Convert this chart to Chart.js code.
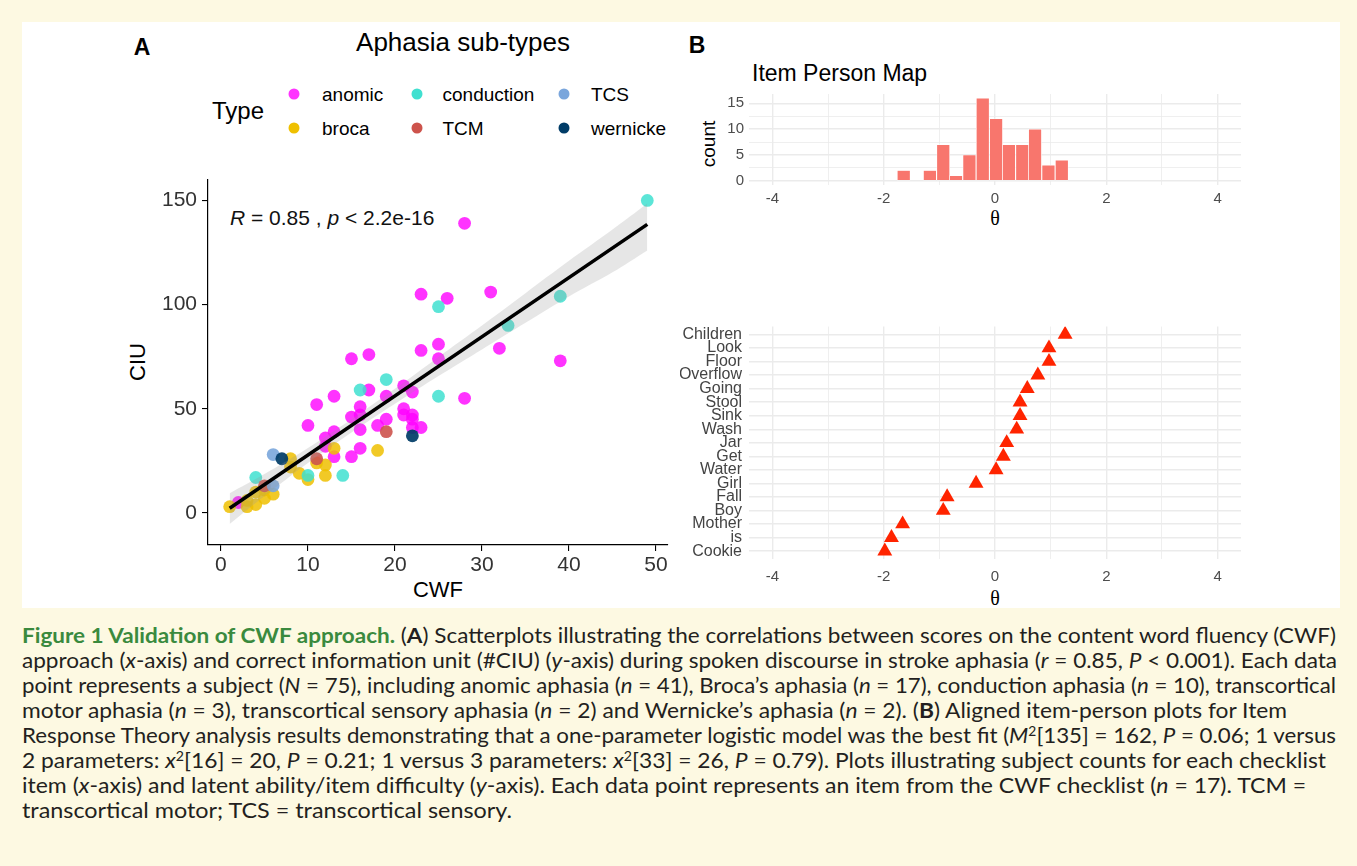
<!DOCTYPE html>
<html><head><meta charset="utf-8">
<title>Figure 1 Validation of CWF approach</title>
<script src="https://cdn.jsdelivr.net/npm/chart.js@4.4.1/dist/chart.umd.min.js"></script>
<style>
html,body{margin:0;padding:0}
body{width:1357px;height:866px;background:#fdf9e2;position:relative;overflow:hidden;font-family:"Liberation Sans",Arial,sans-serif;color:#000}
#panel{position:absolute;left:22px;top:22px;width:1318px;height:586px;background:#fff}
.t{position:absolute;white-space:nowrap;line-height:1}
.c{transform:translate(-50%,-50%)}
.l{transform:translateY(-50%)}
.rot{transform:translate(-50%,-50%) rotate(-90deg)}
.dot{position:absolute;width:11px;height:11px;border-radius:50%;transform:translate(-50%,-50%)}
canvas{position:absolute}
.cl{position:absolute;left:22px;white-space:nowrap;font-family:Lato,"Noto Sans",sans-serif;font-size:21px;line-height:25px;color:#231f20;transform-origin:0 50%}
.cl .g{color:#3a8a3e;font-weight:bold}
sup{font-size:0.62em;line-height:0;vertical-align:0.55em}
.serif{font-family:"Liberation Serif","DejaVu Serif",serif}
</style></head>
<body>
<div id="panel"></div>

<div class="t c" style="left:142px;top:47px;font-size:23px;font-weight:bold">A</div>
<div class="t c" style="left:697px;top:45px;font-size:23px;font-weight:bold">B</div>
<div class="t c" style="left:463px;top:42px;font-size:26px">Aphasia sub-types</div>
<div class="t c" style="left:238px;top:111px;font-size:24px">Type</div>
<div id="legend"></div>

<div class="t l" style="left:230px;top:217px;font-size:21px;color:#111"><i>R</i> = 0.85 , <i>p</i> &lt; 2.2e-16</div>
<div class="t rot" style="left:138px;top:362px;font-size:22px">CIU</div>
<div class="t c" style="left:438px;top:590px;font-size:22px">CWF</div>

<div class="t l" style="left:752px;top:73px;font-size:23px">Item Person Map</div>
<div class="t rot" style="left:708px;top:144px;font-size:19px">count</div>
<div class="t c serif" style="left:995px;top:218px;font-size:20px">θ</div>
<div class="t c serif" style="left:995px;top:598px;font-size:20px">θ</div>

<canvas id="cA" width="600" height="420" style="left:100px;top:160px;width:600px;height:420px"></canvas>
<canvas id="cH" width="600" height="130" style="left:680px;top:80px;width:600px;height:130px"></canvas>
<canvas id="cI" width="600" height="280" style="left:680px;top:310px;width:600px;height:280px"></canvas>

<div class="cl" data-w="1314" style="top:622px"><span class="g">Figure 1 Validation of CWF approach.</span> (<b>A</b>) Scatterplots illustrating the correlations between scores on the content word fluency (CWF)</div>
<div class="cl" data-w="1315" style="top:647px">approach (<i>x</i>-axis) and correct information unit (#CIU) (<i>y</i>-axis) during spoken discourse in stroke aphasia (<i>r</i> = 0.85, <i>P</i> &lt; 0.001). Each data</div>
<div class="cl" data-w="1314" style="top:672px">point represents a subject (<i>N</i> = 75), including anomic aphasia (<i>n</i> = 41), Broca’s aphasia (<i>n</i> = 17), conduction aphasia (<i>n</i> = 10), transcortical</div>
<div class="cl" data-w="1265" style="top:697px">motor aphasia (<i>n</i> = 3), transcortical sensory aphasia (<i>n</i> = 2) and Wernicke’s aphasia (<i>n</i> = 2). (<b>B</b>) Aligned item-person plots for Item</div>
<div class="cl" data-w="1314" style="top:722px">Response Theory analysis results demonstrating that a one-parameter logistic model was the best fit (<i>M</i><sup>2</sup>[135] = 162, <i>P</i> = 0.06; 1 versus</div>
<div class="cl" data-w="1304" style="top:747px">2 parameters: <i>x</i><sup>2</sup>[16] = 20, <i>P</i> = 0.21; 1 versus 3 parameters: <i>x</i><sup>2</sup>[33] = 26, <i>P</i> = 0.79). Plots illustrating subject counts for each checklist</div>
<div class="cl" data-w="1284" style="top:772px">item (<i>x</i>-axis) and latent ability/item difficulty (<i>y</i>-axis). Each data point represents an item from the CWF checklist (<i>n</i> = 17). TCM =</div>
<div class="cl" data-w="490" style="top:797px">transcortical motor; TCS = transcortical sensory.</div>

<script>
// ---------------- data: panel A ----------------
const cwfTicks = [0, 10, 20, 30, 40, 50];
const ciuTicks = [0, 50, 100, 150];
const typeNames = ['anomic', 'broca', 'conduction', 'TCM', 'TCS', 'wernicke'];

const anomicCWF = [28, 31, 23, 26, 25, 25, 32, 39, 28, 15, 17, 23, 17, 21, 22, 19, 13, 11, 16, 21, 15, 16, 21, 22, 19, 10, 13, 23, 18, 22, 16, 12, 16, 15, 13, 2, 12, 22];
const anomicCIU = [139, 106, 105, 103, 81, 74, 79, 73, 55, 74, 76, 78, 59, 61, 58, 56, 56, 52, 51, 50, 46, 47, 47, 45, 45, 42, 39, 41, 42, 41, 40, 36, 31, 27, 27, 5, 32, 47];
const brocaCWF = [1, 3, 4, 5, 4, 6, 3, 8, 8, 9, 10, 11, 12, 12, 13, 18, 5];
const brocaCIU = [3, 3, 4, 7, 10, 9, 6, 26, 22, 19, 16, 24, 23, 18, 31, 30, 11];
const conductionCWF = [49, 39, 33, 25, 25, 19, 16, 14, 10, 4];
const conductionCIU = [150, 104, 90, 99, 56, 64, 59, 18, 18, 17];
const tcmCWF = [19, 11, 5];
const tcmCIU = [39, 26, 13];
const tcsCWF = [6, 6];
const tcsCIU = [28, 13];
const wernickeCWF = [22, 7];
const wernickeCIU = [37, 26];

// fitted line and confidence band
const fitCWF = [1, 49];
const fitCIU = [2.2, 138.5];
const bandCWF = [1, 5, 10, 15, 20, 25, 30, 35, 40, 45, 49];
const bandUpper = [9.5, 18.7, 31.2, 45.0, 59.6, 74.9, 90.0, 105.5, 121.0, 136.0, 148.5];
const bandLower = [-5.3, 8.1, 24.0, 38.6, 52.4, 65.7, 78.5, 91.3, 103.9, 115.5, 126.0];

// ---------------- data: panel B ----------------
const thetaTicks = [-4, -2, 0, 2, 4];
const thetaMinor = [-3, -1, 1, 3];
const countTicks = [0, 5, 10, 15];
const countMinor = [2.5, 7.5, 12.5];
const binTheta = [-1.64, -1.40, -1.17, -0.93, -0.70, -0.46, -0.22, 0.02, 0.25, 0.49, 0.72, 0.96, 1.20];
const binCount = [2, 0, 2, 7, 1, 5, 16, 12, 7, 7, 10, 3, 4];
const itemNames = ['Cookie', 'is', 'Mother', 'Boy', 'Fall', 'Girl', 'Water', 'Get', 'Jar', 'Wash', 'Sink', 'Stool', 'Going', 'Overflow', 'Floor', 'Look', 'Children'];
const itemTheta = [-1.98, -1.86, -1.66, -0.93, -0.86, -0.34, 0.02, 0.15, 0.21, 0.39, 0.45, 0.45, 0.58, 0.77, 0.97, 0.97, 1.26];

// ---------------- styles ----------------
const FONT = '"Liberation Sans", Arial, sans-serif';
const typeColor = {
  anomic: 'rgba(255,0,255,0.80)',
  broca: 'rgba(239,192,0,0.85)',
  conduction: 'rgba(64,224,208,0.85)',
  TCM: 'rgba(205,83,76,0.9)',
  TCS: 'rgba(122,166,220,0.9)',
  wernicke: 'rgba(0,60,103,0.92)'
};
const legendSolid = {anomic:'#ff33ff', broca:'#efc000', conduction:'#40e0d0', TCM:'#cd534c', TCS:'#7aa6dc', wernicke:'#003c67'};

// legend (HTML)
(function(){
  const colX = [293.5, 417, 564], labX = [322, 442.5, 591], rowY = [94, 128];
  const lg = document.getElementById('legend');
  typeNames.forEach((n, i) => {
    const c = Math.floor(i / 2), r = i % 2;
    const d = document.createElement('div');
    d.className = 'dot';
    d.style.left = colX[c] + 'px'; d.style.top = rowY[r] + 'px'; d.style.background = legendSolid[n];
    lg.appendChild(d);
    const t = document.createElement('div');
    t.className = 't l';
    t.style.left = labX[c] + 'px'; t.style.top = rowY[r] + 'px'; t.style.fontSize = '19px';
    t.textContent = n;
    lg.appendChild(t);
  });
})();

const pts = (xs, ys) => xs.map((x, i) => ({x: x, y: ys[i]}));
const seriesData = {
  anomic: pts(anomicCWF, anomicCIU),
  broca: pts(brocaCWF, brocaCIU),
  conduction: pts(conductionCWF, conductionCIU),
  TCM: pts(tcmCWF, tcmCIU),
  TCS: pts(tcsCWF, tcsCIU),
  wernicke: pts(wernickeCWF, wernickeCIU)
};

const pointSets = typeNames.map((n, i) => ({
  type: 'scatter',
  label: n,
  data: seriesData[n],
  backgroundColor: typeColor[n],
  borderWidth: 0,
  pointRadius: 6.4,
  order: 20 - i
}));

new Chart(document.getElementById('cA'), {
  type: 'scatter',
  data: {
    datasets: [
      ...pointSets,
      {type: 'line', label: 'upper', data: pts(bandCWF, bandUpper), borderWidth: 0, pointRadius: 0,
       fill: '+1', backgroundColor: 'rgba(150,150,150,0.24)', tension: 0.3, order: 2},
      {type: 'line', label: 'lower', data: pts(bandCWF, bandLower), borderWidth: 0, pointRadius: 0,
       fill: false, tension: 0.3, order: 2},
      {type: 'line', label: 'fit', data: pts(fitCWF, fitCIU), borderColor: '#000', borderWidth: 3.6,
       pointRadius: 0, fill: false, order: 1}
    ]
  },
  options: {
    responsive: false, animation: false, events: [],
    layout: {padding: {left: 0, right: 32, top: 20, bottom: 0}},
    plugins: {legend: {display: false}, tooltip: {enabled: false}},
    scales: {
      x: {
        type: 'linear', min: -1.49, max: 51.38,
        afterBuildTicks: s => { s.ticks = cwfTicks.map(v => ({value: v})); },
        afterFit: s => { s.height = 35; },
        grid: {display: true, drawOnChartArea: false, drawTicks: true, tickLength: 6, color: '#000', lineWidth: 1.1},
        border: {display: true, color: '#000', width: 1.2},
        ticks: {padding: 2, color: '#333', font: {family: FONT, size: 21}, autoSkip: false, maxRotation: 0}
      },
      y: {
        type: 'linear', min: -15.4, max: 159.8,
        afterBuildTicks: s => { s.ticks = ciuTicks.map(v => ({value: v})); },
        afterFit: s => { s.width = 108; },
        grid: {display: true, drawOnChartArea: false, drawTicks: true, tickLength: 6, color: '#000', lineWidth: 1.1},
        border: {display: true, color: '#000', width: 1.2},
        ticks: {padding: 5, color: '#333', font: {family: FONT, size: 21}, autoSkip: false}
      }
    }
  }
});

// ---------------- panel B charts ----------------
const thetaAll = [...thetaTicks, ...thetaMinor].sort((a, b) => a - b);
const thetaAxis = (h, pad) => ({
  type: 'linear', min: -4.42, max: 4.42, offset: false,
  afterBuildTicks: s => { s.ticks = thetaAll.map(v => ({value: v})); },
  afterFit: s => { s.height = h; },
  grid: {display: true, drawTicks: false, offset: false, color: '#ebebeb',
         lineWidth: c => (c.tick && thetaTicks.includes(c.tick.value)) ? 1.4 : 0.8},
  border: {display: false},
  ticks: {padding: pad, color: '#4d4d4d', font: {family: FONT, size: 15}, autoSkip: false, maxRotation: 0,
          callback: v => thetaTicks.includes(v) ? String(v) : ''}
});

const countAll = [...countTicks, ...countMinor].sort((a, b) => a - b);
new Chart(document.getElementById('cH'), {
  type: 'bar',
  data: {
    datasets: [{
      data: binTheta.map((x, i) => ({x: x, y: binCount[i]})),
      backgroundColor: '#f8766d', borderColor: '#ffffff', borderWidth: 0.6,
      barPercentage: 1, categoryPercentage: 1, grouped: false, borderSkipped: false
    }]
  },
  options: {
    responsive: false, animation: false, events: [],
    layout: {padding: {left: 0, right: 39, top: 14, bottom: 0}},
    plugins: {legend: {display: false}, tooltip: {enabled: false}},
    scales: {
      x: thetaAxis(25, 5),
      y: {
        type: 'linear', min: -0.8, max: 16.8,
        afterBuildTicks: s => { s.ticks = countAll.map(v => ({value: v})); },
        afterFit: s => { s.width = 69; },
        grid: {display: true, drawTicks: false, color: '#ebebeb',
               lineWidth: c => (c.tick && countTicks.includes(c.tick.value)) ? 1.4 : 0.8},
        border: {display: false},
        ticks: {padding: 5, color: '#4d4d4d', font: {family: FONT, size: 15}, autoSkip: false,
                callback: v => countTicks.includes(v) ? String(v) : ''}
      }
    }
  }
});

new Chart(document.getElementById('cI'), {
  type: 'scatter',
  data: {
    datasets: [{
      data: itemTheta.map((x, i) => ({x: x, y: i + 1})),
      pointStyle: 'triangle', pointRadius: 8.6, backgroundColor: '#ff2400', borderWidth: 0
    }]
  },
  options: {
    responsive: false, animation: false, events: [],
    layout: {padding: {left: 0, right: 39, top: 12, bottom: 0}},
    plugins: {legend: {display: false}, tooltip: {enabled: false}},
    scales: {
      x: thetaAxis(31, 9),
      y: {
        type: 'linear', min: 0.42, max: 17.58,
        afterBuildTicks: s => { s.ticks = itemNames.map((n, i) => ({value: i + 1})); },
        afterFit: s => { s.width = 69; },
        grid: {display: true, drawTicks: false, color: '#ebebeb', lineWidth: 1.4},
        border: {display: false},
        ticks: {padding: 7, color: '#444', font: {family: FONT, size: 16}, autoSkip: false,
                callback: v => itemNames[v - 1] || ''}
      }
    }
  }
});

// ---------------- caption line fitting ----------------
function fitLines() {
  document.querySelectorAll('.cl').forEach(el => {
    el.style.transform = 'none';
    const w = el.getBoundingClientRect().width;
    const t = +el.dataset.w;
    if (w > 0) el.style.transform = 'scaleX(' + (t / w) + ')';
  });
}
fitLines();
if (document.fonts && document.fonts.ready) document.fonts.ready.then(fitLines);
</script>
</body></html>
